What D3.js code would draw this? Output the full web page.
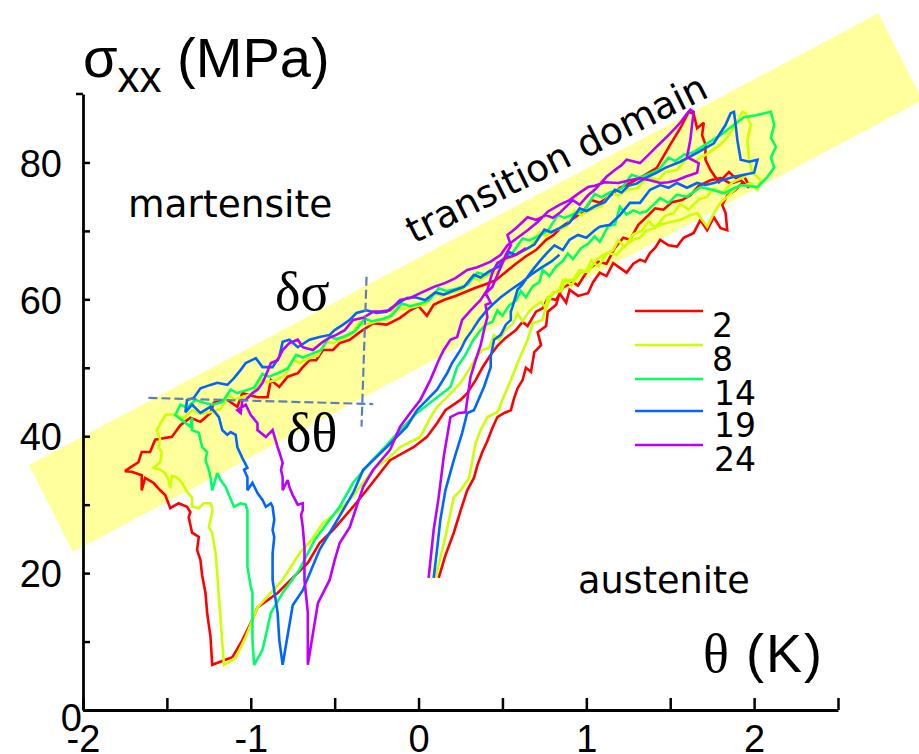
<!DOCTYPE html>
<html><head><meta charset="utf-8">
<script src="https://cdn.jsdelivr.net/npm/d3@7"></script>
<style>body{margin:0;background:#fff}</style>
</head><body>
<svg id="c" width="919" height="754"></svg>
<script>
// ---- data (theta in K, sigma_xx in MPa) ----
const cycleLabels = ["2", "8", "14", "19", "24"];

const cycle2 = [
[0.12,19.3],[0.16,22.6],[0.21,25.9],[0.25,29.1],[0.29,32.1],[0.33,33.9],[0.35,35.7],[0.38,37.7],[0.41,39.3],[0.44,41.2],
[0.47,42.8],[0.51,43.4],[0.55,43.8],[0.57,45.6],[0.59,47.0],[0.62,48.2],[0.64,50.0],[0.67,49.4],[0.69,52.3],[0.73,53.3],
[0.71,55.2],[0.76,56.1],[0.77,58.2],[0.82,59.2],[0.84,60.9],[0.88,59.5],[0.90,61.4],[0.95,60.5],[1.01,60.9],[1.04,62.5],
[1.08,63.9],[1.12,63.4],[1.16,65.3],[1.20,64.6],[1.24,63.9],[1.28,65.2],[1.32,65.8],[1.35,65.5],[1.38,66.8],[1.41,67.5],
[1.44,68.7],[1.49,67.9],[1.54,67.7],[1.58,69.0],[1.64,69.7],[1.68,71.6],[1.72,70.1],[1.76,72.0],[1.80,70.4],[1.84,70.1],
[1.83,72.6],[1.81,73.8],[1.84,75.2],[1.89,76.0],[1.93,77.0],[1.97,76.6],[1.94,78.0],[1.89,77.7],[1.85,78.6],[1.79,77.1],
[1.74,78.9],[1.71,80.4],[1.71,82.6],[1.69,84.0],[1.70,85.8],[1.66,85.0],[1.64,87.1],[1.61,87.4],
[1.56,85.0],[1.50,82.6],[1.42,79.2],[1.35,78.2],[1.27,77.1],[1.20,76.3],[1.14,75.1],[1.08,74.1],[1.03,74.5],[0.98,72.8],
[0.91,71.6],[0.86,70.7],[0.80,69.3],[0.76,68.7],[0.70,67.2],[0.64,66.3],[0.58,65.2],[0.52,64.0],[0.46,62.8],[0.40,62.2],
[0.34,61.7],[0.26,60.9],[0.22,60.5],[0.15,59.9],[0.09,59.2],[0.05,57.6],[0.00,59.0],[-0.05,58.4],[-0.11,57.3],[-0.19,56.3],
[-0.27,56.5],[-0.35,55.2],[-0.41,54.1],[-0.47,53.6],[-0.51,52.6],[-0.57,52.6],[-0.61,51.1],[-0.65,51.1],[-0.69,50.1],[-0.72,49.2],
[-0.78,48.7],[-0.83,47.2],[-0.88,48.2],[-0.90,45.7],[-0.96,45.7],[-1.05,46.3],[-1.08,44.3],[-1.14,45.3],[-1.22,44.9],[-1.24,43.4],
[-1.30,42.1],[-1.36,42.7],[-1.42,41.6],[-1.47,39.9],[-1.57,39.5],[-1.60,37.7],[-1.65,37.7],[-1.67,36.2],[-1.72,35.4],[-1.75,34.9],
[-1.71,34.8],[-1.65,34.3],[-1.65,32.1],[-1.63,33.9],[-1.58,33.2],[-1.54,32.1],[-1.51,31.4],[-1.48,29.5],[-1.43,30.2],[-1.38,29.7],
[-1.36,28.9],[-1.37,28.2],[-1.35,25.9],[-1.31,25.3],[-1.32,23.4],[-1.30,21.9],[-1.29,19.7],[-1.27,17.1],[-1.26,14.2],[-1.25,12.4],
[-1.24,10.7],[-1.23,6.6],
[-1.11,7.7],[-1.05,10.2],[-0.99,13.2],[-0.96,15.0],[-0.84,17.1],[-0.75,19.3],[-0.66,21.5],[-0.59,24.4],[-0.51,26.3],[-0.39,29.7],
[-0.31,32.1],[-0.17,36.5],[-0.03,38.4],[0.05,39.9],[0.11,41.9],[0.16,43.8],[0.25,45.3],[0.29,46.3],[0.34,48.2],[0.38,50.0],
[0.43,51.9],[0.47,53.2],[0.52,54.4],[0.58,55.5],[0.62,56.7],[0.65,56.1],[0.70,58.2],[0.74,58.7],[0.77,60.2],[0.82,59.9],
[0.86,61.7],[0.92,62.5],[0.95,62.0],[1.01,64.3],[1.07,65.5],[1.12,65.2],[1.17,67.5],[1.22,69.0],[1.26,68.7],[1.31,70.9],
[1.37,72.3],[1.41,73.3],[1.46,73.1],[1.51,74.2],[1.57,74.5],[1.62,75.2],[1.67,76.6],[1.74,77.4],[1.80,77.7],[1.86,76.9],
[1.92,77.4],[1.97,76.3]
];

const cycle8 = [
[0.10,19.3],[0.16,25.3],[0.21,31.1],[0.25,32.1],[0.30,33.8],[0.34,39.0],[0.37,40.9],[0.41,42.8],[0.47,43.5],[0.51,45.9],
[0.55,48.2],[0.59,50.7],[0.65,54.1],[0.68,56.5],[0.74,57.0],[0.77,60.3],[0.84,61.4],[0.86,62.8],[0.92,62.8],[0.96,64.3],
[1.01,64.0],[1.06,65.8],[1.12,66.8],[1.18,66.5],[1.23,67.9],[1.28,68.7],[1.32,69.0],[1.36,70.1],[1.41,70.4],[1.44,70.9],
[1.50,71.3],[1.56,71.6],[1.62,72.3],[1.66,72.6],[1.70,71.3],[1.72,70.6],[1.76,72.6],[1.80,74.1],[1.84,75.0],[1.90,76.4],
[1.95,76.7],[1.98,77.0],[2.02,76.0],[2.04,77.4],[1.99,78.5],[1.97,80.4],[1.96,83.3],[1.98,85.5],[1.95,87.2],[1.93,87.4],
[1.89,85.5],[1.85,84.0],[1.80,82.6],
[1.71,81.1],[1.65,80.2],[1.60,80.6],[1.54,78.9],[1.47,78.6],[1.43,77.4],[1.37,77.9],[1.30,76.2],[1.24,76.0],[1.19,75.1],
[1.15,75.7],[1.09,73.6],[1.02,73.0],[0.97,72.3],[0.93,72.9],[0.88,70.6],[0.81,70.1],[0.76,69.2],[0.72,69.8],[0.66,67.4],
[0.60,66.9],[0.56,66.2],[0.51,65.6],[0.47,64.0],[0.41,63.5],[0.36,62.8],[0.32,63.3],[0.26,61.4],[0.20,61.0],[0.14,60.5],
[0.09,60.9],[0.04,59.3],[-0.03,58.9],[-0.09,58.6],[-0.13,59.0],[-0.18,57.2],[-0.25,56.8],[-0.31,56.3],[-0.35,56.7],[-0.40,54.9],
[-0.46,54.2],[-0.51,53.6],[-0.55,53.9],[-0.60,51.8],[-0.66,51.3],[-0.71,50.7],[-0.75,51.2],[-0.79,49.0],[-0.85,48.2],[-0.90,47.9],
[-0.94,48.3],[-0.99,46.2],[-1.04,45.8],[-1.09,45.4],[-1.13,45.9],[-1.18,44.0],[-1.24,43.5],[-1.30,43.3],[-1.35,43.8],[-1.40,42.6],
[-1.46,43.2],[-1.51,43.1],
[-1.56,40.9],[-1.54,39.5],[-1.55,38.4],[-1.53,37.7],[-1.54,36.2],[-1.58,35.4],[-1.54,35.1],[-1.51,34.6],[-1.49,33.6],[-1.48,32.4],
[-1.47,34.2],[-1.44,34.0],[-1.41,33.2],[-1.38,31.9],[-1.35,31.0],[-1.35,29.7],[-1.31,29.5],[-1.28,30.2],[-1.24,30.2],[-1.23,29.5],
[-1.23,28.9],[-1.25,26.7],[-1.23,25.9],[-1.21,22.9],[-1.20,20.0],[-1.19,16.5],[-1.18,13.2],[-1.17,9.8],[-1.16,6.6],
[-1.09,7.6],[-1.03,10.7],[-0.96,15.0],[-0.81,19.0],[-0.71,22.9],[-0.64,24.8],[-0.57,27.3],[-0.49,28.8],[-0.41,30.7],[-0.34,32.9],
[-0.27,35.1],[-0.18,36.8],[-0.11,38.4],[0.01,39.9],[0.07,42.7],[0.11,44.3],[0.17,45.7],[0.25,47.8],[0.31,50.1],
[0.34,51.4],[0.38,52.6],[0.42,52.9],[0.45,54.8],[0.48,54.1],[0.52,55.6],[0.56,56.4],[0.59,57.9],[0.62,56.8],[0.66,58.3],
[0.70,59.1],[0.73,59.6],[0.76,58.7],[0.80,61.0],[0.85,61.2],[0.88,62.9],[0.91,62.0],[0.96,63.8],[1.00,64.1],[1.03,65.7],
[1.07,64.8],[1.12,66.6],[1.16,67.2],[1.19,68.6],[1.23,67.7],[1.28,69.5],[1.33,70.0],[1.37,71.4],[1.41,70.5],[1.47,72.2],
[1.52,72.6],[1.56,73.9],[1.61,73.1],[1.67,74.6],[1.72,75.0],[1.76,76.2],[1.81,75.5],[1.87,77.1],[1.95,78.0]
];

const cycle14 = [
[1.68,76.4],[1.75,76.0],[1.82,75.5],[1.92,76.7],[2.02,76.4],[2.08,77.9],[2.12,79.3],[2.10,80.7],[2.13,82.3],[2.10,83.6],
[2.12,85.5],[2.10,87.4],[2.01,86.9],[1.94,86.6],[1.88,85.5],[1.80,84.0],
[1.71,82.6],[1.64,81.5],[1.58,81.1],[1.53,80.2],[1.49,80.7],[1.43,78.9],[1.37,78.3],[1.32,77.8],[1.27,78.2],[1.21,76.2],
[1.14,75.6],[1.09,74.9],[1.05,75.4],[0.99,73.1],[0.93,72.5],[0.87,71.9],[0.83,72.3],[0.77,70.0],[0.71,69.2],[0.66,68.6],
[0.62,68.9],[0.56,66.8],[0.50,65.9],[0.45,64.4],[0.40,63.6],[0.35,63.9],[0.29,62.1],[0.23,61.6],[0.17,61.2],[0.12,61.6],
[0.06,59.8],[0.00,59.3],[-0.05,59.0],[-0.10,59.4],[-0.16,57.6],[-0.22,57.1],[-0.28,56.8],[-0.32,57.2],[-0.38,55.3],[-0.44,54.6],
[-0.49,54.2],[-0.53,54.6],[-0.58,52.6],[-0.64,52.0],[-0.69,51.5],[-0.73,51.9],[-0.78,49.9],[-0.84,49.2],[-0.89,48.7],[-0.93,49.1],
[-0.98,47.1],[-1.03,46.7],[-1.08,46.3],[-1.12,46.8],[-1.17,45.0],[-1.23,44.6],[-1.28,44.9],[-1.33,45.3],[-1.38,44.2],[-1.42,44.6],
[-1.45,43.1],
[-1.36,41.4],[-1.35,42.7],[-1.35,40.9],[-1.31,40.5],[-1.29,38.4],[-1.26,37.7],[-1.27,36.5],[-1.25,35.1],[-1.24,34.0],[-1.23,32.1],
[-1.20,34.6],[-1.18,33.6],[-1.15,32.6],[-1.13,31.4],[-1.10,29.7],[-1.06,30.2],[-1.03,30.0],[-1.02,29.2],[-1.02,28.2],[-1.02,26.3],
[-1.02,24.8],[-1.02,20.9],[-1.00,18.0],[-0.99,17.1],[-0.99,14.2],[-0.99,10.2],[-0.98,6.6],
[-0.93,8.8],[-0.88,14.2],[-0.81,17.1],[-0.71,20.5],[-0.62,24.8],[-0.53,27.8],[-0.47,29.7],[-0.39,33.2],[-0.29,36.1],[-0.19,38.7],
[-0.11,40.9],[-0.01,43.4],[0.09,45.3],[0.19,47.2],[0.23,50.1],[0.28,51.9],[0.32,53.8],
[0.36,55.2],[0.40,56.3],[0.44,56.7],[0.47,58.4],[0.50,57.6],[0.54,59.1],[0.58,59.8],[0.61,61.2],[0.64,60.3],[0.68,61.9],
[0.72,62.5],[0.74,64.3],[0.78,63.4],[0.82,64.8],[0.86,65.6],[0.89,66.7],[0.92,65.9],[0.97,67.5],[1.01,68.1],[1.05,69.2],
[1.08,68.4],[1.13,70.7],[1.17,70.9],[1.20,73.5],[1.24,72.4],[1.28,73.0],[1.32,72.6],[1.36,72.9],[1.40,73.8],[1.44,74.8],
[1.49,74.1],[1.54,75.3],[1.60,75.0],[1.68,76.4]
];

const cycle19 = [
[0.09,19.3],[0.11,23.4],[0.13,27.8],[0.16,32.1],[0.21,36.5],[0.26,40.5],[0.29,43.4],[0.33,43.8],[0.39,47.2],[0.43,50.1],
[0.43,51.6],[0.45,54.1],[0.49,54.8],[0.52,56.3],[0.55,57.0],[0.55,58.2],[0.56,58.9],[0.59,61.4],[0.62,62.2],[0.65,63.3],
[0.68,64.3],[0.73,65.8],[0.77,66.9],[0.81,67.9],[0.86,67.2],[0.90,68.7],[0.95,69.4],[1.00,69.0],[1.05,70.1],[1.08,70.6],
[1.14,70.9],[1.20,72.3],[1.26,74.1],[1.32,74.1],[1.38,76.0],[1.44,76.7],[1.49,76.3],[1.54,77.0],[1.60,76.3],[1.66,77.0],
[1.71,76.7],[1.76,77.0],[1.81,77.4],[1.88,77.9],[1.94,78.2],[2.00,78.5],[2.02,80.4],[1.97,80.1],[1.92,80.4],[1.90,83.3],
[1.89,85.5],[1.88,87.4],[1.86,87.2],[1.83,85.5],[1.76,82.8],[1.66,81.4],[1.56,80.1],[1.47,79.2],[1.42,78.5],
[1.35,77.7],[1.30,76.9],[1.25,76.6],[1.21,75.6],[1.17,76.0],[1.11,74.2],[1.05,73.6],[1.00,72.9],[0.96,73.3],[0.90,71.2],
[0.84,70.4],[0.79,69.8],[0.75,70.2],[0.69,68.0],[0.63,67.2],[0.58,66.5],[0.54,66.9],[0.48,64.8],[0.42,64.1],[0.37,63.2],
[0.33,63.6],[0.27,61.8],[0.21,61.3],[0.15,60.7],[0.10,61.0],[0.04,59.9],[-0.02,60.3],[-0.07,60.2],[-0.11,59.6],
[-0.17,58.6],[-0.19,58.2],[-0.25,58.0],[-0.31,58.4],[-0.37,58.0],[-0.41,57.0],[-0.45,56.3],
[-0.50,55.5],[-0.53,54.8],[-0.59,54.5],[-0.65,54.1],[-0.72,53.0],[-0.77,54.1],[-0.81,53.8],[-0.83,51.6],[-0.87,50.1],[-0.93,50.1],
[-0.97,51.4],[-1.03,50.7],[-1.06,49.7],[-1.10,48.5],[-1.14,47.5],[-1.20,47.8],[-1.24,47.5],[-1.30,47.0],[-1.34,45.6],[-1.38,45.3],
[-1.39,43.5],[-1.35,44.6],[-1.30,43.4],
[-1.24,44.3],[-1.19,42.8],[-1.17,40.9],[-1.14,40.2],[-1.12,40.6],[-1.09,40.2],[-1.08,38.4],[-1.05,36.8],[-1.02,35.4],[-1.04,35.1],
[-1.02,34.0],[-1.02,32.1],[-0.99,33.2],[-0.96,31.7],[-0.93,30.7],[-0.91,29.7],[-0.88,30.2],[-0.87,29.7],[-0.86,27.8],[-0.87,26.3],
[-0.86,25.3],[-0.87,22.9],[-0.87,19.0],[-0.84,14.2],[-0.83,10.2],[-0.81,6.6],
[-0.75,15.3],[-0.69,17.5],[-0.59,23.4],[-0.51,26.7],[-0.39,31.7],[-0.33,35.1],[-0.27,36.5],[-0.19,38.4],[-0.07,41.4],[-0.01,43.8],
[0.05,45.3],[0.11,46.8],[0.17,49.2],[0.20,50.7],[0.25,52.6],[0.28,54.1],[0.32,55.5],[0.36,57.0],[0.40,58.2],[0.44,59.2],
[0.49,60.3],[0.55,61.4],[0.61,62.4],[0.67,63.6],[0.73,64.6],[0.79,65.5],[0.84,66.5]
];

const cycle24 = [
[0.06,19.3],[0.09,26.3],[0.12,31.1],[0.15,37.0],[0.19,42.8],[0.24,43.4],[0.28,43.5],[0.31,48.7],[0.34,51.1],[0.37,53.3],
[0.39,55.5],[0.41,57.4],[0.40,59.2],[0.43,59.5],[0.40,60.9],[0.44,61.8],[0.47,63.6],[0.49,64.7],[0.52,66.5],[0.55,67.9],
[0.53,69.4],[0.58,70.4],[0.62,71.3],[0.65,72.0],[0.70,71.6],[0.76,72.3],[0.80,71.9],[0.84,72.6],[0.89,73.8],[0.92,74.5],
[0.96,73.8],[1.01,75.2],[1.05,76.0],[1.09,77.1],[1.12,77.9],[1.17,78.9],[1.21,79.6],[1.24,80.4],[1.29,80.1],[1.32,79.9],
[1.37,81.1],[1.41,82.1],[1.44,82.8],[1.49,84.0],[1.53,85.0],[1.56,85.8],[1.59,86.8],[1.62,87.7],[1.64,87.4],[1.63,85.5],
[1.62,83.3],[1.60,80.8],[1.67,79.9],[1.66,78.5],[1.59,77.9],[1.54,77.4],[1.49,77.1],[1.44,77.0],[1.38,77.4],[1.32,77.7],
[1.26,77.4],[1.19,77.0],[1.11,77.1],[1.05,76.6],[1.01,76.4],[0.95,75.4],[0.90,74.5],
[0.84,73.8],[0.77,72.8],[0.71,71.3],[0.65,70.1],[0.59,69.0],[0.53,67.9],[0.49,66.5],[0.43,65.5],[0.35,64.7],[0.29,64.3],
[0.22,63.1],[0.16,62.4],[0.09,61.8],[0.01,60.9],[-0.05,60.2],[-0.11,59.9],[-0.17,58.4],[-0.23,58.2],[-0.27,58.2],[-0.33,57.3],
[-0.39,57.0],[-0.44,55.5],[-0.49,54.8],[-0.53,54.4],[-0.57,53.8],[-0.63,52.6],[-0.69,53.0],[-0.72,54.1],[-0.77,53.6],[-0.81,52.6],
[-0.84,51.1],[-0.88,50.7],[-0.91,48.9],[-0.93,47.8],[-0.96,46.8],[-0.99,46.3],[-1.03,45.3],[-1.05,45.3],[-1.06,43.4],[-1.08,43.8],
[-1.03,44.6],[-1.00,43.1],[-0.96,41.9],[-0.96,40.9],[-0.91,39.9],[-0.87,40.9],[-0.84,38.4],[-0.83,37.7],[-0.81,36.1],[-0.82,35.1],
[-0.81,34.0],[-0.81,32.1],[-0.78,33.6],[-0.77,32.6],[-0.75,31.4],[-0.72,30.0],[-0.69,30.2],[-0.69,29.2],[-0.70,28.5],[-0.69,26.7],
[-0.68,23.8],[-0.68,19.0],[-0.66,14.2],[-0.66,6.6],
[-0.60,15.6],[-0.53,19.0],[-0.50,21.9],[-0.47,24.4],[-0.41,26.7],[-0.39,28.2],[-0.33,32.6],[-0.27,35.1],[-0.17,38.0],[-0.11,41.4],
[-0.05,43.4],[0.01,45.3],[0.07,48.2],[0.12,51.1],[0.15,52.6],[0.19,54.1],[0.23,54.5],[0.26,57.0],[0.31,58.4],[0.37,59.9],
[0.41,61.4],[0.44,63.9],[0.47,65.3],[0.52,66.0],[0.58,66.5],[0.64,67.5]
];

const seriesData = [cycle2, cycle8, cycle14, cycle19, cycle24];
const seriesColors = ["#ff0000", "#ccff00", "#00ff66", "#0066ff", "#bb00ff"];

const xTicks = [-2, -1.5, -1, -0.5, 0, 0.5, 1, 1.5, 2, 2.5];
const yTicks = [0, 10, 20, 30, 40, 50, 60, 70, 80];
const yLabelled = [0, 20, 40, 60, 80];

// transition band corners (theta, sigma)
const bandCorners = [[-2.322, 35.8], [2.741, 101.8], [3.003, 89.1], [-2.060, 23.1]];
// delta-sigma / delta-theta guide lines
const dSigmaLine = [[-0.31, 63.3], [-0.34, 41.4]];
const dThetaLine = [[-1.61, 45.6], [-0.27, 44.7]];

// ---- drawing ----
const svg = d3.select("#c");
svg.append("rect").attr("width", 919).attr("height", 754).attr("fill", "#fff");
const x = d3.scaleLinear().domain([-2, 2.5]).range([83, 838]);
const y = d3.scaleLinear().domain([0, 90]).range([710, 94]);
const line = d3.line().x(d => x(d[0])).y(d => y(d[1]));

svg.append("path").attr("d", line(bandCorners) + "Z").attr("fill", "#ffff9c");

const lg = svg.append("g");
seriesData.forEach((s, i) => {
  lg.append("path").attr("d", line(s)).attr("fill", "none")
    .attr("stroke", seriesColors[i]).attr("stroke-width", 2.6)
    .attr("stroke-linejoin", "miter").attr("stroke-miterlimit", 2.5);
});

[dSigmaLine, dThetaLine].forEach(l => {
  svg.append("path").attr("d", line(l)).attr("fill", "none")
    .attr("stroke", "#5b82b8").attr("stroke-width", 2.2).attr("stroke-dasharray", "9,4");
});

// axes
const xAxis = d3.axisBottom(x).tickValues(xTicks).tickSizeInner(-12).tickSizeOuter(0)
  .tickFormat(d => Number.isInteger(d) ? String(d) : "");
const gx = svg.append("g").attr("transform", "translate(0,710)").call(xAxis);
gx.select(".domain").attr("stroke", "#000").attr("stroke-width", 2.8);
gx.selectAll(".tick line").attr("stroke", "#000").attr("stroke-width", 2.5);
gx.selectAll(".tick text").attr("y", 42).attr("dy", 0)
  .attr("font-family", "Liberation Sans, Arial, sans-serif").attr("font-size", 38).attr("fill", "#000");

const yAxis = d3.axisLeft(y).tickValues(yTicks).tickSizeInner(-7).tickSizeOuter(0)
  .tickFormat(d => yLabelled.includes(d) ? String(d) : "");
const gy = svg.append("g").attr("transform", "translate(83,0)").call(yAxis);
gy.select(".domain").attr("stroke", "#000").attr("stroke-width", 2.8);
gy.selectAll(".tick line").attr("stroke", "#000").attr("stroke-width", 2.5);
gy.selectAll(".tick text").attr("x", -21).attr("dy", "0.36em")
  .attr("font-family", "Liberation Sans, Arial, sans-serif").attr("font-size", 38).attr("fill", "#000");
gy.selectAll(".tick text").filter(d => d === 0).attr("x", -1).attr("dy", "0.55em");
gy.append("line").attr("x1", -7).attr("x2", 0).attr("y1", y(90)).attr("y2", y(90))
  .attr("stroke", "#000").attr("stroke-width", 2.5);
gx.attr("font-family", null); gy.attr("font-family", null);

// axis titles
const yt = svg.append("text").attr("x", 83).attr("y", 77)
  .attr("font-family", "Liberation Sans, Arial, sans-serif").attr("font-size", 56).attr("fill", "#000");
yt.append("tspan").text("σ");
yt.append("tspan").attr("dy", 15).attr("font-size", 44).text("xx");
yt.append("tspan").attr("dy", -15).text(" (MPa)");

const xt = svg.append("text").attr("x", 703).attr("y", 672).attr("fill", "#000");
xt.append("tspan").attr("font-family", "Liberation Serif, Times New Roman, serif").attr("font-size", 54).text("θ");
xt.append("tspan").attr("x", 746).attr("font-family", "Liberation Sans, Arial, sans-serif").attr("font-size", 54)
  .attr("letter-spacing", 2).text("(K)");

// region labels
const regionFont = "DejaVu Sans, Verdana, sans-serif";
svg.append("text").attr("x", 128).attr("y", 217).attr("font-family", regionFont).attr("font-size", 37.5).text("martensite");
svg.append("text").attr("x", 578).attr("y", 593).attr("font-family", regionFont).attr("font-size", 36.6).text("austenite");
svg.append("text").attr("transform", "translate(414,244) rotate(-26.5)")
  .attr("font-family", regionFont).attr("font-size", 37.5).text("transition domain");

svg.append("text").attr("x", 275).attr("y", 310).attr("font-family", "Liberation Serif, Times New Roman, serif")
  .attr("font-size", 54).text("δσ");
svg.append("text").attr("x", 286).attr("y", 451).attr("font-family", "Liberation Serif, Times New Roman, serif")
  .attr("font-size", 54).text("δθ");

// legend
const legY = [311, 345, 379, 411, 445];
cycleLabels.forEach((lab, i) => {
  svg.append("line").attr("x1", 635).attr("x2", 703).attr("y1", legY[i]).attr("y2", legY[i])
    .attr("stroke", seriesColors[i]).attr("stroke-width", 2.6);
  svg.append("text").attr("x", 712 + (i >= 2 ? 2 : 0)).attr("y", legY[i] + 26)
    .attr("font-family", regionFont).attr("font-size", 33).attr("fill", "#000").text(lab);
});
</script>
</body></html>
